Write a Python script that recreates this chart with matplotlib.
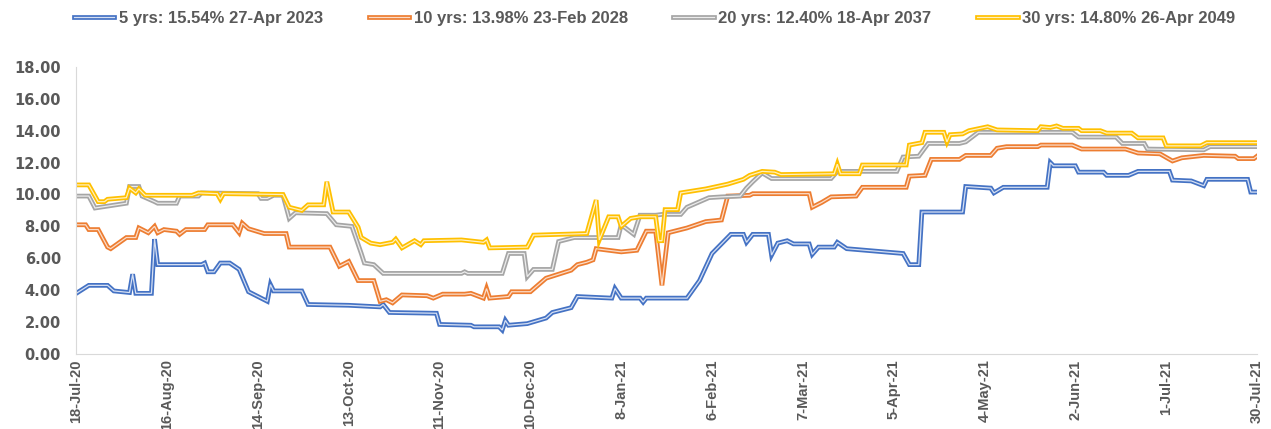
import pandas as pd
import matplotlib.pyplot as plt
import matplotlib.patheffects as pe

plt.rcParams['font.family'] = ['Liberation Sans', 'DejaVu Sans']
plt.rcParams['font.size'] = 11

start = pd.Timestamp('2020-07-18')

# days after 18-Jul-20, yield in %
y5_days = [0, 4, 10, 12, 17, 18, 19, 24, 25, 26, 40, 41, 42, 44, 46, 49, 52, 55, 57, 61,
           62, 63, 72, 74, 87, 97, 98, 100, 115, 116, 126, 127, 135, 136, 137, 138, 144, 150,
           152, 158, 160, 171, 172, 174, 180, 181, 182, 195, 199, 203, 209, 213, 214, 216,
           221, 222, 224, 227, 229, 234, 235, 237, 242, 243, 246, 264, 266, 269, 270, 283,
           284, 292, 293, 296, 310, 311, 312, 319, 320, 328, 329, 336, 339, 349, 350, 356,
           360, 361, 374, 375, 377]
y5_vals = [3.8, 4.3, 4.3, 3.95, 3.85, 5.0, 3.8, 3.8, 7.2, 5.6, 5.6, 5.7, 5.15, 5.15, 5.7, 5.7,
           5.3, 3.9, 3.7, 3.3, 4.35, 3.95, 3.95, 3.1, 3.05, 2.95, 3.1, 2.6, 2.55, 1.85, 1.8,
           1.7, 1.7, 1.5, 2.1, 1.8, 1.9, 2.25, 2.6, 2.9, 3.6, 3.5, 4.1, 3.5, 3.5, 3.25, 3.5,
           3.5, 4.6, 6.3, 7.5, 7.5, 7.0, 7.5, 7.5, 6.2, 6.95, 7.1, 6.9, 6.9, 6.25, 6.7, 6.7,
           7.0, 6.6, 6.3, 5.6, 5.6, 8.9, 8.9, 10.5, 10.4, 10.1, 10.45, 10.45, 12.0, 11.8,
           11.8, 11.4, 11.4, 11.2, 11.2, 11.45, 11.45, 10.9, 10.85, 10.55, 10.95, 10.95,
           10.15, 10.15]

y10_days = [0, 3, 4, 7, 10, 11, 16, 19, 20, 23, 25, 26, 28, 32, 33, 35, 41, 42, 50, 52, 53,
            55, 60, 67, 68, 81, 84, 87, 90, 95, 97, 99, 101, 104, 112, 114, 117, 124, 126,
            130, 131, 132, 138, 139, 145, 150, 158, 160, 163, 165, 166, 174, 179, 182, 185,
            187, 189, 195, 201, 206, 208, 215, 216, 234, 235, 238, 241, 249, 251, 265, 266,
            271, 273, 282, 284, 292, 294, 297, 307, 308, 318, 321, 335, 339, 346, 350, 353,
            360, 370, 371, 376, 377]
y10_vals = [8.1, 8.1, 7.8, 7.8, 6.7, 6.6, 7.3, 7.3, 7.9, 7.6, 8.0, 7.6, 7.8, 7.7, 7.5, 7.8,
            7.8, 8.1, 8.1, 7.6, 8.2, 7.85, 7.55, 7.55, 6.7, 6.7, 5.5, 5.8, 4.6, 4.6, 3.3, 3.4,
            3.2, 3.7, 3.65, 3.5, 3.75, 3.75, 3.8, 3.5, 4.1, 3.5, 3.6, 3.9, 3.9, 4.75, 5.25,
            5.6, 5.75, 5.9, 6.6, 6.4, 6.5, 7.7, 7.7, 4.3, 7.6, 7.9, 8.3, 8.4, 9.9, 9.95,
            10.05, 10.05, 9.2, 9.5, 9.85, 9.9, 10.45, 10.45, 11.15, 11.2, 12.2, 12.2, 12.45,
            12.45, 12.9, 13.0, 13.0, 13.1, 13.1, 12.85, 12.85, 12.6, 12.55, 12.1, 12.3, 12.45,
            12.4, 12.25, 12.25, 12.4]

y20_days = [0, 4, 6, 16, 17, 20, 21, 25, 26, 32, 33, 39, 40, 58, 59, 61, 63, 66, 68, 70, 80,
            83, 88, 91, 92, 95, 98, 123, 124, 125, 136, 138, 143, 144, 146, 152, 154, 159,
            173, 174, 178, 180, 185, 187, 193, 195, 202, 206, 212, 214, 216, 219, 222, 241,
            243, 262, 264, 269, 272, 282, 284, 286, 288, 318, 320, 332, 334, 341, 342, 360,
            362, 377]
y20_vals = [9.9, 9.9, 9.15, 9.45, 10.5, 10.5, 9.9, 9.55, 9.45, 9.45, 9.9, 9.9, 10.1, 10.05,
            9.75, 9.75, 9.95, 9.95, 8.5, 8.85, 8.8, 8.1, 8.0, 6.3, 5.7, 5.6, 5.05, 5.05, 5.15,
            5.05, 5.05, 6.3, 6.3, 4.85, 5.3, 5.3, 7.05, 7.3, 7.3, 8.1, 7.5, 8.7, 8.7, 8.75,
            8.75, 9.2, 9.8, 9.85, 9.9, 10.4, 10.8, 11.35, 11.0, 11.0, 11.45, 11.45, 12.35,
            12.4, 13.2, 13.2, 13.3, 13.6, 13.9, 13.9, 13.6, 13.6, 13.2, 13.2, 12.85, 12.8,
            13.0, 13.0]

y30_days = [0, 4, 7, 9, 10, 16, 17, 19, 20, 22, 37, 39, 45, 46, 47, 66, 68, 72, 74, 79, 80,
            82, 87, 90, 91, 94, 97, 101, 102, 104, 108, 110, 111, 123, 130, 131, 132, 144,
            146, 163, 166, 167, 170, 173, 174, 177, 180, 185, 186, 187, 188, 192, 193, 201,
            208, 213, 215, 219, 223, 225, 242, 243, 244, 250, 251, 265, 266, 270, 271, 277,
            278, 279, 283, 285, 291, 294, 307, 308, 311, 313, 315, 320, 321, 327, 329, 337,
            339, 347, 348, 359, 361, 377]
y30_vals = [10.6, 10.6, 9.55, 9.55, 9.7, 9.8, 10.4, 10.1, 10.35, 9.95, 9.95, 10.1, 10.05,
            9.7, 10.05, 10.0, 9.2, 9.0, 9.35, 9.35, 10.8, 8.9, 8.9, 7.95, 7.3, 6.95, 6.85,
            7.0, 7.2, 6.65, 7.1, 6.85, 7.1, 7.15, 7.0, 7.15, 6.65, 6.7, 7.45, 7.55, 9.65,
            7.15, 8.6, 8.6, 8.0, 8.5, 8.6, 8.6, 7.1, 7.1, 9.05, 9.05, 10.1, 10.35, 10.65,
            10.95, 11.2, 11.45, 11.4, 11.25, 11.3, 11.9, 11.3, 11.3, 11.85, 11.85, 13.1,
            13.25, 13.9, 13.9, 13.3, 13.75, 13.8, 14.0, 14.25, 14.05, 14.0, 14.25, 14.2,
            14.3, 14.15, 14.15, 14.0, 14.0, 13.85, 13.85, 13.55, 13.55, 13.05, 13.05, 13.25,
            13.25]

labels = ['5 yrs: 15.54% 27-Apr 2023', '10 yrs: 13.98% 23-Feb 2028',
          '20 yrs: 12.40% 18-Apr 2037', '30 yrs: 14.80% 26-Apr 2049']
tick_days = [0, 29, 58, 87, 116, 145, 174, 203, 232, 261, 290, 319, 348, 377]

colors = ['#4472C4', '#ED7D31', '#A5A5A5', '#FFC000']
centers = ['#d6e0f3', '#fbdcc8', '#ececec', '#fff0c0']

fig, ax = plt.subplots(figsize=(12.71, 4.29), dpi=100)
fig.subplots_adjust(left=0.06, right=0.989, bottom=0.175, top=0.844)

series = [(y5_days, y5_vals), (y10_days, y10_vals), (y20_days, y20_vals), (y30_days, y30_vals)]
for (days, vals), c, cc, lab in zip(series, colors, centers, labels):
    x = start + pd.to_timedelta(days, unit='D')
    ax.plot(x, vals, color=cc, lw=0.9, label=lab, solid_joinstyle='miter',
            path_effects=[pe.Stroke(linewidth=3.4, foreground=c), pe.Normal()])

ax.set_ylim(0, 18)
ax.set_yticks(range(0, 19, 2))
ax.set_yticklabels(['%.2f' % v for v in range(0, 19, 2)], fontweight='bold',
                   family='DejaVu Sans', fontsize=10.5)
ticks = [start + pd.Timedelta(days=d) for d in tick_days]
ax.set_xlim(ticks[0], ticks[-1])
ax.set_xticks(ticks)
ax.set_xticklabels(['%d-%s' % (t.day, t.strftime('%b-%y')) for t in ticks],
                   rotation=90, fontweight='bold', fontsize=10.5,
                   family=['Liberation Sans Narrow', 'Liberation Sans'])
ax.tick_params(axis='both', length=0, colors='#595959')
ax.tick_params(axis='y', pad=11)
ax.tick_params(axis='x', pad=4)
for s in ['top', 'right']:
    ax.spines[s].set_visible(False)
for s in ['left', 'bottom']:
    ax.spines[s].set_color('#d9d9d9')

fig.legend(loc='center', bbox_to_anchor=(0.515, 0.958), ncol=4, frameon=False,
           handlelength=2.45, columnspacing=2.75, handletextpad=0.25,
           prop={'size': 12, 'weight': 'bold'}, labelcolor='#595959')

plt.savefig('out.png', dpi=100)
